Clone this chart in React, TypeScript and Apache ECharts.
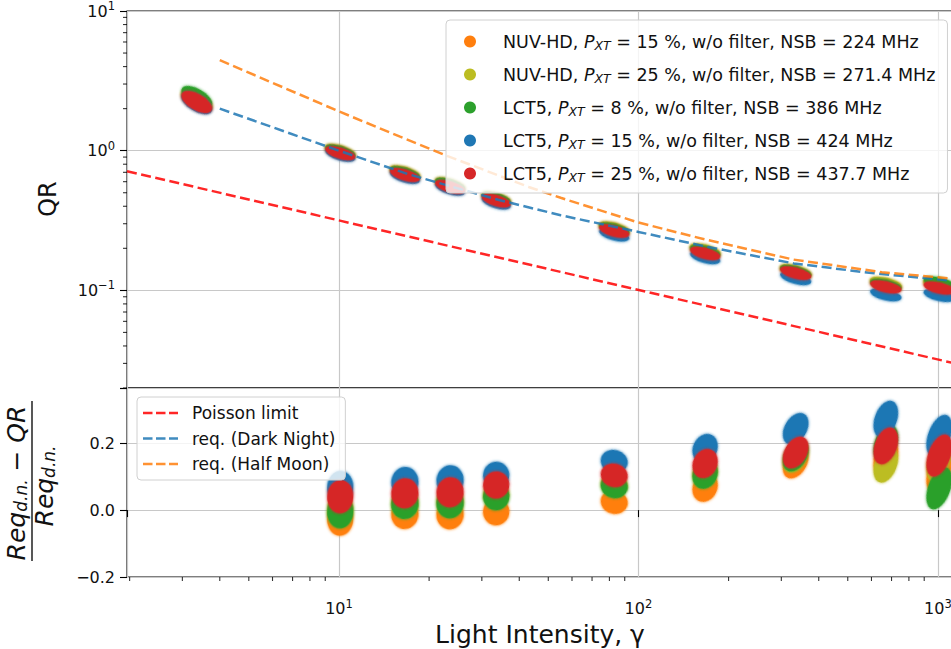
import React, { useEffect, useRef } from 'react';
import * as echarts from 'echarts';

// ---------------- data ----------------
const CLUSTER_X = [3.35, 10.1, 16.6, 23.5, 33.5, 83, 167, 335, 670, 1010];
const RES_X = [10.1, 16.6, 23.5, 33.5, 83, 167, 335, 670, 1010];

const SERIES_NAMES = [
  'NUV-HD, P_XT = 15 %, w/o filter, NSB = 224 MHz',
  'NUV-HD, P_XT = 25 %, w/o filter, NSB = 271.4 MHz',
  'LCT5, P_XT = 8 %, w/o filter, NSB = 386 MHz',
  'LCT5, P_XT = 15 %, w/o filter, NSB = 424 MHz',
  'LCT5, P_XT = 25 %, w/o filter, NSB = 437.7 MHz',
];

// QR (top panel) per series at CLUSTER_X
const QR_NUV15 = [2.27, 0.99, 0.695, 0.57, 0.455, 0.277, 0.192, 0.136, 0.111, 0.11];
const QR_NUV25 = [2.3, 0.98, 0.69, 0.565, 0.45, 0.276, 0.193, 0.137, 0.112, 0.108];
const QR_LCT8 = [2.42, 0.985, 0.69, 0.57, 0.455, 0.274, 0.19, 0.136, 0.109, 0.113];
const QR_LCT15 = [2.19, 0.935, 0.65, 0.535, 0.425, 0.25, 0.172, 0.122, 0.093, 0.092];
const QR_LCT25 = [2.23, 0.96, 0.67, 0.55, 0.44, 0.266, 0.184, 0.133, 0.106, 0.104];

// (Req_dn - QR)/Req_dn (bottom panel) per series at RES_X
const RES_NUV15 = [-0.027, -0.012, -0.013, -0.005, 0.024, 0.068, 0.142, 0.158, 0.115];
const RES_NUV25 = [0.0, 0.02, 0.025, 0.045, 0.075, 0.11, 0.16, 0.137, 0.15];
const RES_LCT8 = [-0.005, 0.018, 0.02, 0.04, 0.071, 0.107, 0.163, 0.2, 0.065];
const RES_LCT15 = [0.068, 0.084, 0.089, 0.104, 0.145, 0.184, 0.243, 0.272, 0.222];
const RES_LCT25 = [0.04, 0.05, 0.053, 0.075, 0.104, 0.139, 0.172, 0.192, 0.163];

const LINE_NAMES = ['Poisson limit', 'req. (Dark Night)', 'req. (Half Moon)'];
const POISSON_X = [1.96, 1123];
const POISSON_Y = [0.713, 0.0302];
const DARK_X = [4, 10, 17, 24, 34, 55, 100, 170, 330, 600, 1000, 1123];
const DARK_Y = [2.0, 1.0, 0.68, 0.55, 0.445, 0.345, 0.262, 0.205, 0.156, 0.133, 0.12, 0.117];
const HALF_X = [4, 10, 16, 22.6, 43, 55, 100, 166, 330, 650, 1000, 1123];
const HALF_Y = [4.45, 1.91, 1.26, 0.93, 0.55, 0.46, 0.306, 0.232, 0.166, 0.135, 0.124, 0.121];

// axis ranges and ticks
const X_MIN = 1.96;
const X_MAX = 1123;
const QR_MIN = 0.02;
const QR_MAX = 10;
const RES_MIN = -0.2;
const RES_MAX = 0.365;
const RES_INTERVAL = 0.2;
const MINOR_X_TICKS = [2, 3, 4, 5, 6, 7, 8, 9, 20, 30, 40, 50, 60, 70, 80, 90, 200, 300, 400, 500, 600, 700, 800, 900];
const MINOR_QR_TICKS = [0.02, 0.03, 0.04, 0.05, 0.06, 0.07, 0.08, 0.09, 0.2, 0.3, 0.4, 0.5, 0.6, 0.7, 0.8, 0.9, 2, 3, 4, 5, 6, 7, 8, 9];

// ---------------- styles ----------------
const FONT = "'DejaVu Sans', sans-serif";
const COLORS = ['#ff7f0e', '#bcbd22', '#2ca02c', '#1f77b4', '#d62728'];
const LINE_COLORS = ['#ff0000', '#1f77b4', '#ff7f0e'];
const ELLIPSE = 'path://M0,50A50,50,0,1,1,100,50A50,50,0,1,1,0,50Z';
const DASH_ICON = 'path://M0,0H9.5V2.5H0Z M13,0H22.5V2.5H13Z M26,0H35V2.5H26Z';
const TOP_BLOB_SIZE = [[34, 16], [31, 11], [31, 11], [31, 11], [30, 11], [31, 11], [31, 11], [32, 11], [32, 11], [32, 11]];
const TOP_BLOB_ROT = [-30, -17, -17, -17, -17, -15, -15, -15, -13, -13];
const RES_BLOB_SIZE = [[26, 33], [27, 30], [27, 30], [26, 27], [27, 23], [24, 30], [22, 34], [22, 38], [22, 44]];
const RES_BLOB_ROT = [-3, -8, -8, -10, -15, -25, -30, -20, -20];

const QR_ALL = [QR_NUV15, QR_NUV25, QR_LCT8, QR_LCT15, QR_LCT25];
const RES_ALL = [RES_NUV15, RES_NUV25, RES_LCT8, RES_LCT15, RES_LCT25];

const decadeLabel = (v: number) => {
  const l = Math.log10(v);
  const e = Math.round(l);
  if (Math.abs(l - e) > 1e-6) return '';
  const exp = e < 0 ? '\u2212' + -e : String(e);
  return `{b|10}{p|${exp}}`;
};
const tickRich = {
  b: { fontSize: 16, fontFamily: FONT, color: '#111', lineHeight: 21, verticalAlign: 'middle' },
  p: { fontSize: 11.5, fontFamily: FONT, color: '#111', lineHeight: 11, padding: [0, 0, 10, 0], verticalAlign: 'middle' },
};

function buildOption() {
  const series: any[] = [];
  SERIES_NAMES.forEach((name, s) => {
    series.push({
      type: 'scatter',
      name,
      xAxisIndex: 0,
      yAxisIndex: 0,
      symbol: ELLIPSE,
      data: CLUSTER_X.map((x, i) => ({
        value: [x, QR_ALL[s][i]],
        symbolSize: TOP_BLOB_SIZE[i],
        symbolRotate: TOP_BLOB_ROT[i],
      })),
      itemStyle: { color: COLORS[s], opacity: 1, shadowBlur: 3, shadowColor: COLORS[s] },
      emphasis: { disabled: true },
      silent: true,
      z: 2,
    });
  });
  SERIES_NAMES.forEach((name, s) => {
    series.push({
      type: 'scatter',
      name,
      xAxisIndex: 1,
      yAxisIndex: 1,
      symbol: ELLIPSE,
      data: RES_X.map((x, i) => ({
        value: [x, RES_ALL[s][i]],
        symbolSize: RES_BLOB_SIZE[i],
        symbolRotate: RES_BLOB_ROT[i],
      })),
      itemStyle: { color: COLORS[s], opacity: 1, shadowBlur: 3, shadowColor: COLORS[s] },
      emphasis: { disabled: true },
      silent: true,
      z: 2,
    });
  });
  const lineData = [
    POISSON_X.map((x, i) => [x, POISSON_Y[i]]),
    DARK_X.map((x, i) => [x, DARK_Y[i]]),
    HALF_X.map((x, i) => [x, HALF_Y[i]]),
  ];
  LINE_NAMES.forEach((name, k) => {
    series.push({
      type: 'line',
      name,
      xAxisIndex: 0,
      yAxisIndex: 0,
      data: lineData[k],
      symbol: 'none',
      showSymbol: false,
      smooth: false,
      lineStyle: { color: LINE_COLORS[k], width: 2.5, type: [10, 4.5], opacity: 0.85 },
      itemStyle: { color: LINE_COLORS[k], opacity: 0.85 },
      emphasis: { disabled: true },
      silent: true,
      z: 3,
    });
  });
  // minor ticks (log axes)
  series.push({
    type: 'scatter',
    xAxisIndex: 0,
    yAxisIndex: 0,
    data: MINOR_QR_TICKS.map((v) => [X_MIN, v]),
    symbol: 'rect',
    symbolSize: [4, 1.1],
    symbolOffset: [-2, 0],
    itemStyle: { color: '#000' },
    clip: false,
    silent: true,
    z: 5,
  });
  series.push({
    type: 'scatter',
    xAxisIndex: 1,
    yAxisIndex: 1,
    data: MINOR_X_TICKS.map((v) => [v, RES_MIN]),
    symbol: 'rect',
    symbolSize: [1.1, 4],
    symbolOffset: [0, 2],
    itemStyle: { color: '#000' },
    clip: false,
    silent: true,
    z: 5,
  });

  const gridLine = { show: true, lineStyle: { color: '#c8c8c8', width: 1.2 } };
  const tick = { show: true, length: 7, inside: false, lineStyle: { color: '#000', width: 1.1 } };

  return {
    animation: false,
    backgroundColor: '#fff',
    textStyle: { fontFamily: FONT },
    grid: [
      { left: 127, top: 11, width: 826, height: 377, show: true, borderColor: '#000', borderWidth: 1.1, containLabel: false, outerBoundsMode: 'none' },
      { left: 127, top: 388, width: 826, height: 189, show: true, borderColor: '#000', borderWidth: 1.1, containLabel: false, outerBoundsMode: 'none' },
    ],
    xAxis: [
      {
        type: 'log', logBase: 10, gridIndex: 0, min: X_MIN, max: X_MAX,
        axisLine: { show: false }, axisTick: { show: false }, axisLabel: { show: false },
        splitLine: gridLine, minorTick: { show: false }, minorSplitLine: { show: false },
      },
      {
        type: 'log', logBase: 10, gridIndex: 1, min: X_MIN, max: X_MAX,
        axisLine: { show: false }, axisTick: tick,
        axisLabel: { show: true, margin: 21, formatter: decadeLabel, rich: tickRich, color: '#111' },
        splitLine: gridLine,
      },
    ],
    yAxis: [
      {
        type: 'log', logBase: 10, gridIndex: 0, min: QR_MIN, max: QR_MAX,
        axisLine: { show: false }, axisTick: tick,
        axisLabel: { show: true, margin: 12, formatter: decadeLabel, rich: tickRich, color: '#111' },
        splitLine: gridLine,
      },
      {
        type: 'value', gridIndex: 1, min: RES_MIN, max: RES_MAX, interval: RES_INTERVAL,
        axisLine: { show: false }, axisTick: tick,
        axisLabel: {
          show: true, margin: 12, fontSize: 16, fontFamily: FONT, color: '#111',
          formatter: (v: number) => {
            if (Math.abs(v / RES_INTERVAL - Math.round(v / RES_INTERVAL)) > 1e-6) return '';
            return v.toFixed(1).replace('-', '\u2212');
          },
        },
        splitLine: gridLine,
      },
    ],
    legend: [
      {
        orient: 'vertical',
        left: 446,
        top: 20,
        padding: [11, 12, 9, 18],
        itemGap: 12,
        itemWidth: 12,
        itemHeight: 12,
        icon: 'circle',
        selectedMode: false,
        backgroundColor: 'rgba(255,255,255,0.8)',
        borderColor: '#d0d0d0',
        borderWidth: 1,
        borderRadius: 4,
        data: SERIES_NAMES,
        formatter: (name: string) => {
          const [a, b] = name.split('P_XT');
          return `{t|${a}}{i|P}{s|XT}{t|${b}}`;
        },
        textStyle: {
          padding: [0, 0, 0, 22],
          fontSize: 17.5,
          fontFamily: FONT,
          color: '#111',
          rich: {
            t: { fontSize: 17.5, fontFamily: FONT, color: '#111', lineHeight: 20, verticalAlign: 'middle' },
            i: { fontSize: 17.5, fontFamily: FONT, fontStyle: 'italic', color: '#111', lineHeight: 20, verticalAlign: 'middle' },
            s: { fontSize: 12.5, fontFamily: FONT, fontStyle: 'italic', color: '#111', lineHeight: 12, padding: [8, 0, 0, 0], verticalAlign: 'middle' },
          },
        },
      },
      {
        orient: 'vertical',
        left: 137,
        top: 397,
        padding: [6, 10, 6, 6],
        itemGap: 5.5,
        itemWidth: 35,
        itemHeight: 2.5,
        selectedMode: false,
        backgroundColor: 'rgba(255,255,255,0.8)',
        borderColor: '#d0d0d0',
        borderWidth: 1,
        borderRadius: 4,
        data: LINE_NAMES.map((name) => ({ name, icon: DASH_ICON })),
        textStyle: { padding: [0, 0, 0, 9], fontSize: 17, lineHeight: 20, fontFamily: FONT, color: '#111' },
      },
    ],
    graphic: [
      {
        type: 'text', x: 48, y: 199, rotation: Math.PI / 2, silent: true,
        style: { text: 'QR', fontSize: 24, fontFamily: FONT, fill: '#111', align: 'center', verticalAlign: 'middle', textAlign: 'center', textVerticalAlign: 'middle' },
      },
      {
        type: 'text', x: 540, y: 634, silent: true,
        style: { text: 'Light Intensity, \u03b3', fontSize: 25, fontFamily: FONT, fill: '#111', align: 'center', verticalAlign: 'middle', textAlign: 'center', textVerticalAlign: 'middle' },
      },
      {
        type: 'text', x: 16, y: 483, rotation: Math.PI / 2, silent: true,
        style: {
          text: '{i|Req}{s|d.n.}{m| \u2212 }{i|QR}',
          align: 'center', verticalAlign: 'middle', textAlign: 'center', textVerticalAlign: 'middle',
          fill: '#111',
          rich: {
            i: { fontSize: 25, fontFamily: FONT, fontStyle: 'italic', fill: '#111', color: '#111', lineHeight: 27, verticalAlign: 'middle' },
            m: { fontSize: 25, fontFamily: FONT, fill: '#111', color: '#111', lineHeight: 27, verticalAlign: 'middle' },
            s: { fontSize: 17, fontFamily: FONT, fontStyle: 'italic', fill: '#111', color: '#111', lineHeight: 17, padding: [10, 0, 0, 0], verticalAlign: 'middle' },
          },
        },
      },
      {
        type: 'line', silent: true,
        shape: { x1: 32, y1: 401, x2: 32, y2: 561 },
        style: { stroke: '#111', lineWidth: 1.4 },
      },
      {
        type: 'text', x: 44, y: 486, rotation: Math.PI / 2, silent: true,
        style: {
          text: '{i|Req}{s|d.n.}',
          align: 'center', verticalAlign: 'middle', textAlign: 'center', textVerticalAlign: 'middle',
          fill: '#111',
          rich: {
            i: { fontSize: 25, fontFamily: FONT, fontStyle: 'italic', fill: '#111', color: '#111', lineHeight: 27, verticalAlign: 'middle' },
            s: { fontSize: 17, fontFamily: FONT, fontStyle: 'italic', fill: '#111', color: '#111', lineHeight: 17, padding: [10, 0, 0, 0], verticalAlign: 'middle' },
          },
        },
      },
    ],
    series,
  };
}

export default function App() {
  const ref = useRef<HTMLDivElement>(null);
  useEffect(() => {
    if (!ref.current) return;
    const chart = echarts.init(ref.current, null, { renderer: 'svg' });
    chart.setOption(buildOption() as any);
    return () => chart.dispose();
  }, []);
  return (
    <div
      ref={ref}
      style={{ position: 'fixed', left: 0, top: 0, width: 951, height: 649, background: '#fff' }}
    />
  );
}
